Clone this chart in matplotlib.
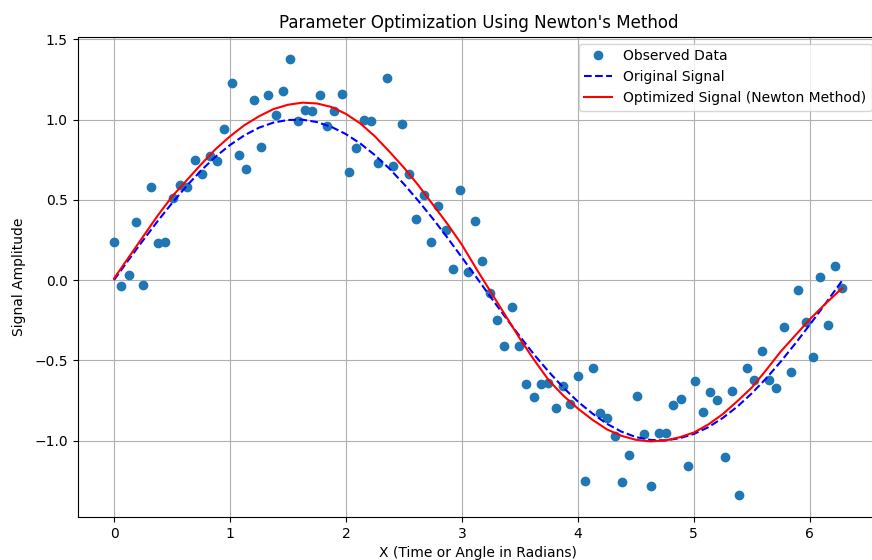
import numpy as np
from matplotlib import pyplot as plt

obs_x=[0.00,0.06,0.13,0.19,0.25,0.32,0.38,0.44,0.51,0.57,
       0.63,0.70,0.76,0.83,0.89,0.95,1.02,1.08,1.14,1.21,
       1.27,1.33,1.40,1.46,1.52,1.59,1.65,1.71,1.78,1.84,
       1.90,1.97,2.03,2.09,2.16,2.22,2.28,2.35,2.41,2.48,
       2.54,2.60,2.67,2.73,2.79,2.86,2.92,2.98,3.05,3.11,
       3.17,3.24,3.30,3.36,3.43,3.49,3.55,3.62,3.68,3.74,
       3.81,3.87,3.93,4.00,4.06,4.13,4.19,4.25,4.32,4.38,
       4.44,4.51,4.57,4.63,4.70,4.76,4.82,4.89,4.95,5.01,
       5.08,5.14,5.20,5.27,5.33,5.39,5.46,5.52,5.59,5.65,
       5.71,5.78,5.84,5.90,5.97,6.03,6.09,6.16,6.22,6.28]
obs_y=[0.24,-0.04,0.03,0.36,-0.03,0.58,0.23,0.24,0.51,0.59,
       0.58,0.75,0.66,0.77,0.74,0.94,1.23,0.78,0.69,1.12,
       0.83,1.15,1.03,1.18,1.38,0.99,1.06,1.05,1.15,0.96,
       1.05,1.16,0.67,0.82,1.00,0.99,0.73,1.26,0.71,0.97,
       0.66,0.38,0.53,0.24,0.46,0.31,0.07,0.56,0.05,0.37,
       0.12,-0.08,-0.25,-0.41,-0.17,-0.41,-0.65,-0.73,-0.65,-0.64,
       -0.80,-0.66,-0.77,-0.60,-1.25,-0.55,-0.83,-0.86,-0.97,-1.26,
       -1.09,-0.72,-0.96,-1.28,-0.95,-0.95,-0.78,-0.74,-1.16,-0.63,
       -0.82,-0.70,-0.75,-1.10,-0.69,-1.34,-0.55,-0.62,-0.44,-0.62,
       -0.67,-0.29,-0.57,-0.06,-0.26,-0.48,0.02,-0.28,0.09,-0.05]

# curves
curve_x=[0.000,0.125,0.250,0.375,0.500,0.625,0.750,0.875,1.000,1.125,
         1.250,1.375,1.500,1.625,1.750,1.875,2.000,2.125,2.250,2.375,
         2.500,2.625,2.750,2.875,3.000,3.125,3.250,3.375,3.500,3.625,
         3.750,3.875,4.000,4.125,4.250,4.375,4.500,4.625,4.750,4.875,
         5.000,5.125,5.250,5.375,5.500,5.625,5.750,5.875,6.000,6.125,
         6.250,6.283]
original_y=[0.00,0.125,0.247,0.366,0.479,0.585,0.682,0.768,0.841,0.902,
            0.949,0.981,0.997,0.999,0.984,0.954,0.909,0.850,0.778,0.694,
            0.598,0.493,0.382,0.264,0.141,0.017,-0.108,-0.231,-0.351,-0.466,
            -0.572,-0.670,-0.757,-0.831,-0.895,-0.944,-0.978,-0.996,-0.999,-0.986,
            -0.959,-0.917,-0.859,-0.789,-0.706,-0.612,-0.508,-0.396,-0.279,-0.157,
            -0.033,0.000]
optimized_y=[0.01,0.14,0.27,0.40,0.52,0.62,0.72,0.815,0.895,0.965,
             1.02,1.065,1.092,1.105,1.10,1.078,1.035,0.975,0.895,0.80,
             0.70,0.59,0.47,0.35,0.22,0.07,-0.075,-0.22,-0.365,-0.50,
             -0.625,-0.72,-0.80,-0.87,-0.93,-0.97,-0.995,-1.005,-1.0,-0.98,
             -0.95,-0.90,-0.835,-0.755,-0.67,-0.56,-0.445,-0.345,-0.245,-0.155,
             -0.07,-0.05]

fig=plt.figure(figsize=(8.72,5.6),dpi=100)
ax=fig.add_axes([0.089,0.0768,0.919,0.8577])

ax.plot(obs_x,obs_y,'o',color='tab:blue',label='Observed Data')
ax.plot(curve_x,original_y,'b--',label='Original Signal')
ax.plot(curve_x,optimized_y,'r-',label='Optimized Signal (Newton Method)')

ax.set_title("Parameter Optimization Using Newton's Method")
ax.set_xlabel('X (Time or Angle in Radians)')
ax.set_ylabel('Signal Amplitude',labelpad=6)
ax.legend(loc='upper right')
ax.grid(True)

fig.savefig('out.png',dpi=100)
